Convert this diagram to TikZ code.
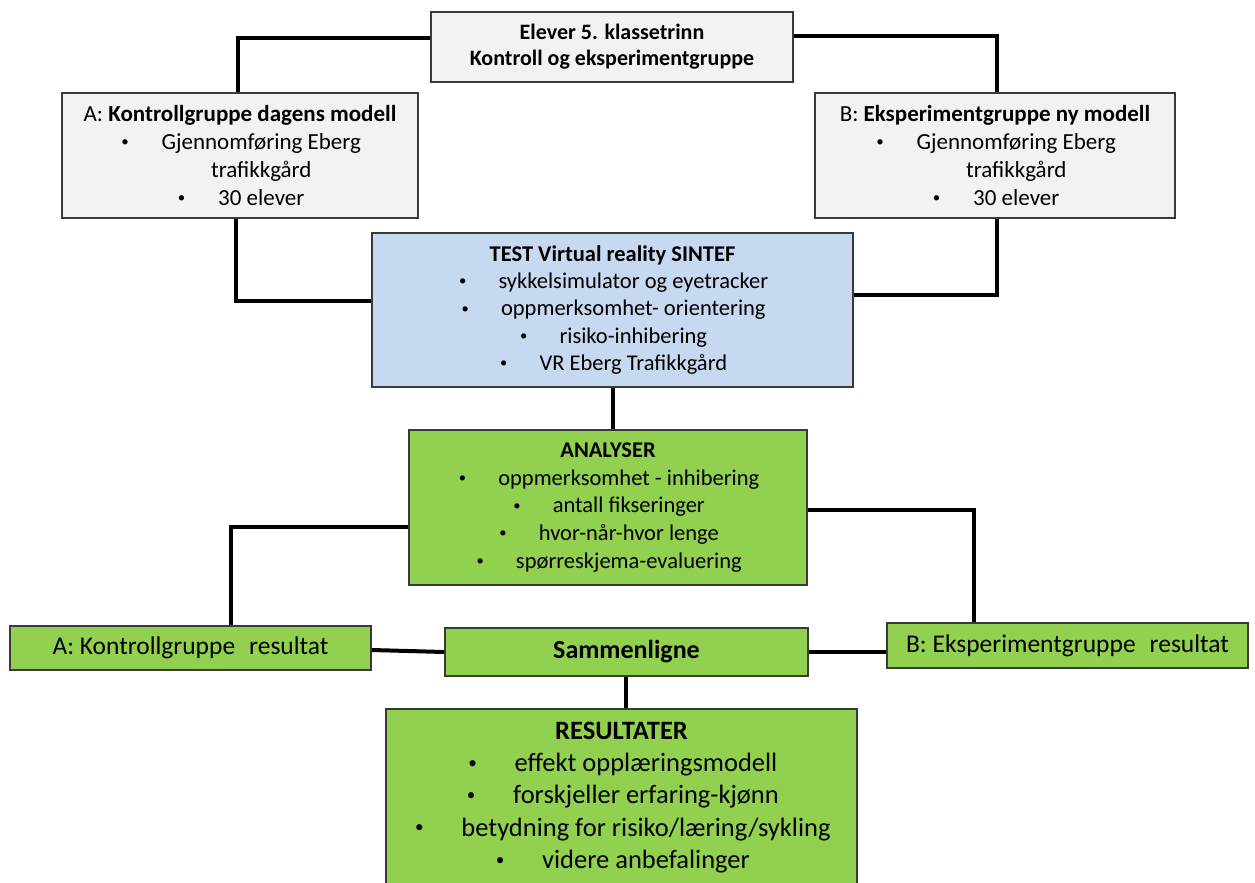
\documentclass[tikz,border=0pt]{standalone}
\usepackage{fontspec}
\usepackage{graphicx}
\setmainfont{Carlito}
\definecolor{boxline}{HTML}{3A3A3A}
\definecolor{boxgray}{HTML}{F2F2F2}
\definecolor{boxblue}{HTML}{C6D9F0}
\definecolor{boxgreen}{HTML}{92D050}
% small bullet followed by a tab-like gap
\newcommand\bitem{\makebox[1.85em][l]{\hspace{0.1em}\raisebox{0.12em}{\scalebox{0.65}{\textbullet}}}}
\newcommand\fsz[2]{\fontsize{#1}{#2}\selectfont}
\begin{document}
\begin{tikzpicture}[x=1pt,y=-1pt,
  box/.style={draw=boxline, line width=2pt, inner sep=0pt, align=center, text=black},
  graybox/.style={box, fill=boxgray},
  bluebox/.style={box, fill=boxblue},
  greenbox/.style={box, fill=boxgreen},
  link/.style={line width=4pt, black}]
\clip (0,0) rectangle (1255,883);
\fill[white] (0,0) rectangle (1255,883);

% top group box
\node[graybox, minimum width=362pt, minimum height=70pt, font=\fsz{22}{26}\bfseries] (top) at (612,47)
  {Elever 5. klassetrinn\\ Kontroll og eksperimentgruppe};

% the two groups
\node[graybox, minimum width=356pt, minimum height=125pt, font=\fsz{23}{28}] (A) at (240,155.5)
  {A: \textbf{Kontrollgruppe dagens modell}\\
   \bitem Gjennomføring Eberg\\ \hspace*{1.85em}trafikkgård\\ \bitem 30 elever};
\node[graybox, minimum width=360pt, minimum height=125pt, font=\fsz{23}{28}] (B) at (995,155.5)
  {B: \textbf{Eksperimentgruppe ny modell}\\
   \bitem Gjennomføring Eberg\\ \hspace*{1.85em}trafikkgård\\ \bitem 30 elever};

% VR test
\node[bluebox, minimum width=481pt, minimum height=154pt, font=\fsz{22.5}{27.3}] (test) at (612.5,310)
  {\textbf{TEST Virtual reality SINTEF}\\
   \bitem sykkelsimulator og eyetracker\\
   \bitem oppmerksomhet- orientering\\
   \bitem risiko-inhibering\\
   \bitem VR Eberg Trafikkgård};

% analyses
\node[greenbox, minimum width=398pt, minimum height=155pt, font=\fsz{22.5}{27.7}] (anal) at (608,507.5)
  {\textbf{ANALYSER}\\
   \bitem oppmerksomhet - inhibering\\
   \bitem antall fikseringer\\
   \bitem hvor-når-hvor lenge\\
   \bitem spørreskjema-evaluering};

% group results and comparison
\node[greenbox, minimum width=361pt, minimum height=44pt, font=\fsz{25.5}{30}] (ares) at (190.5,648)
  {A: Kontrollgruppe\hspace{0.55em}resultat};
\node[greenbox, minimum width=363pt, minimum height=48pt, font=\fsz{26}{30}\bfseries] (samm) at (626.5,652)
  {Sammenligne};
\node[greenbox, minimum width=361pt, minimum height=45pt, font=\fsz{25.5}{30}] (bres) at (1067.5,645.5)
  {B: Eksperimentgruppe\hspace{0.55em}resultat};

% final results
\node[greenbox, minimum width=471pt, minimum height=177pt, font=\fsz{26.5}{32.2}] (res) at (621.5,797.5)
  {\textbf{RESULTATER}\\
   \bitem effekt opplæringsmodell\\
   \bitem forskjeller erfaring-kjønn\\
   \bitem betydning for risiko/læring/sykling\\
   \bitem videre anbefalinger};

% connectors
\draw[link] ([yshift=9pt]top.west) -| ([xshift=-2pt]A.north);
\draw[link] ([yshift=11pt]top.east) -| ([xshift=2pt]B.north);
\draw[link] ([xshift=-4pt]A.south) |- ([yshift=9pt]test.west);
\draw[link] ([xshift=2pt]B.south) |- ([yshift=15pt]test.east);
\draw[link] (test.south) -- (test.south |- anal.north);
\draw[link] ([yshift=-19.5pt]anal.west) -| ([xshift=40.5pt]ares.north);
\draw[link] ([yshift=-2.5pt]anal.east) -| ([xshift=-93.5pt]bres.north);
\draw[link] ([yshift=-2pt]ares.east) -- (samm.west);
\draw[link] (samm.east) -- (samm.east -| bres.west);
\draw[link] ([xshift=-0.5pt]samm.south) -- ([xshift=-0.5pt]samm.south |- res.north);
\end{tikzpicture}
\end{document}
